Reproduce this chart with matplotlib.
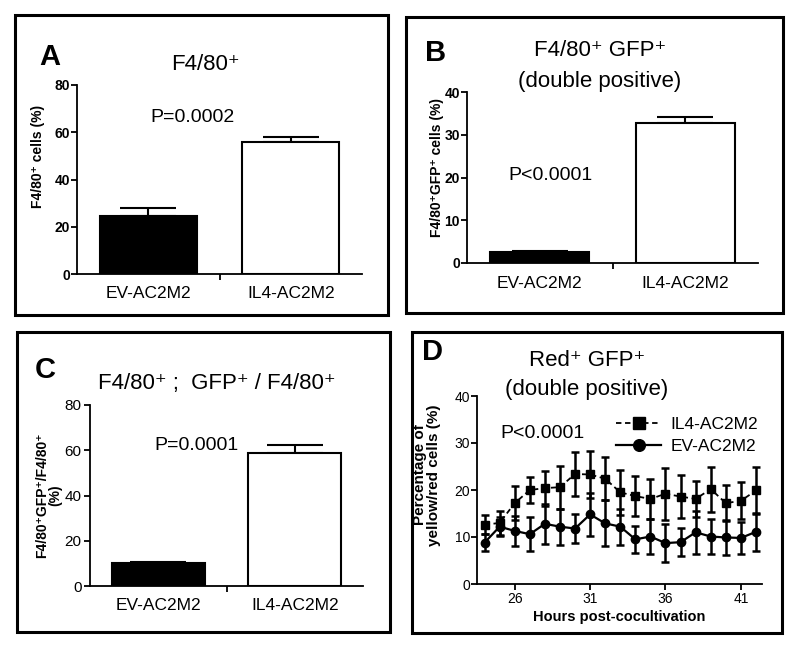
import numpy as np
import matplotlib.pyplot as plt
from matplotlib.patches import Rectangle

# Liberation Sans first, DejaVu Sans for the superscript plus sign
plt.rcParams['font.family'] = ['Liberation Sans', 'DejaVu Sans']

# bar panels A-C
groups = ['EV-AC2M2', 'IL4-AC2M2']
bar_colors = ['black', 'white']

a_mean = [24.5, 55.8]
a_err = [3.5, 2.2]
b_mean = [2.5, 32.7]
b_err = [0.3, 1.4]
c_mean = [10.0, 59.0]
c_err = [0.5, 3.2]

# time course panel D
hours = np.arange(24, 43)
il4_mean = [12.6, 13.0, 17.2, 20.0, 20.4, 20.6, 23.4, 23.3, 22.4, 19.5,
            18.7, 18.1, 19.2, 18.6, 18.1, 20.2, 17.2, 17.7, 19.9]
il4_err = [2.0, 2.5, 3.6, 2.8, 3.7, 4.6, 4.6, 5.1, 4.6, 4.8,
           4.2, 4.3, 5.5, 4.5, 3.8, 4.8, 3.8, 3.9, 4.9]
ev_mean = [8.8, 12.2, 11.3, 10.6, 12.8, 12.2, 11.8, 14.8, 12.9, 12.2,
           9.5, 10.1, 8.7, 8.9, 11.0, 10.1, 9.9, 9.8, 11.1]
ev_err = [1.8, 2.0, 3.2, 3.6, 4.2, 3.8, 3.0, 4.5, 4.9, 3.8,
          2.9, 3.7, 4.1, 3.0, 4.6, 3.8, 3.7, 3.4, 4.0]

P = '\u207a'  # superscript plus

W, H = 800, 653
fig = plt.figure(figsize=(8, 6.53), dpi=100)


def fig_rect(x0, y0, x1, y1):
    # pixel box (top-left origin) -> figure fraction
    return [x0 / W, 1 - y1 / H, (x1 - x0) / W, (y1 - y0) / H]


def frame(x0, y0, x1, y1):
    r = Rectangle((x0 / W, 1 - y1 / H), (x1 - x0) / W, (y1 - y0) / H,
                  transform=fig.transFigure, fill=False, lw=2.2, ec='black')
    fig.patches.append(r)


def ftext(x, y, s, **kw):
    fig.text(x / W, 1 - y / H, s, ha='center', va='center', **kw)


def style_axes(ax, tick_weight):
    for s in ['top', 'right']:
        ax.spines[s].set_visible(False)
    for s in ['left', 'bottom']:
        ax.spines[s].set_linewidth(1.3)
    ax.tick_params(axis='y', direction='out', length=4, width=1.3,
                   labelsize=10, pad=1)
    for t in ax.get_yticklabels():
        t.set_fontweight(tick_weight)


def bar_panel(rect, means, errs, ymax, step, tick_weight):
    ax = fig.add_axes(rect)
    x = np.arange(2)
    ax.bar(x, means, width=0.68, color=bar_colors, edgecolor='black',
           linewidth=1.5, zorder=2)
    ax.errorbar(x, means, yerr=[[0, 0], errs], fmt='none', ecolor='black',
                elinewidth=1.5, capsize=20, capthick=1.5, zorder=1)
    ax.set_xlim(-0.5, 1.5)
    ax.set_ylim(0, ymax)
    ax.set_yticks(np.arange(0, ymax + 1, step))
    ax.set_xticks(x)
    ax.set_xticklabels(groups, fontsize=12.5)
    ax.set_xticks([0.5], minor=True)
    ax.tick_params(axis='x', which='major', length=0, pad=9)
    ax.tick_params(axis='x', which='minor', length=4, width=1.3,
                   direction='out')
    style_axes(ax, tick_weight)
    return ax


# frames
frame(15, 15, 388, 315)
frame(406, 17, 783, 313)
frame(17, 332, 390, 632)
frame(412, 332, 782, 633)

# A
axA = bar_panel(fig_rect(77, 85, 362, 274), a_mean, a_err, 80, 20, 'bold')
axA.set_ylabel('F4/80' + P + ' cells (%)', fontsize=10, fontweight='bold')
axA.yaxis.set_label_coords(-0.112, 0.62)
ftext(50, 57, 'A', fontsize=21, fontweight='bold')
ftext(205, 64, 'F4/80' + P, fontsize=16)
ftext(192, 117, 'P=0.0002', fontsize=14)

# B
axB = bar_panel(fig_rect(467, 92, 758, 263), b_mean, b_err, 40, 10, 'bold')
axB.set_ylabel('F4/80' + P + 'GFP' + P + ' cells (%)',
               fontsize=10, fontweight='bold')
axB.yaxis.set_label_coords(-0.08, 0.56)
ftext(436, 53, 'B', fontsize=21, fontweight='bold')
ftext(600, 50, 'F4/80' + P + ' GFP' + P, fontsize=16)
ftext(600, 81, '(double positive)', fontsize=16)
ftext(550, 175, 'P<0.0001', fontsize=14)

# C
axC = bar_panel(fig_rect(90, 405, 363, 586), c_mean, c_err, 80, 20, 'normal')
axC.set_ylabel('F4/80' + P + 'GFP' + P + '/F4/80' + P + '\n(%)',
               fontsize=10, fontweight='bold', linespacing=1.0)
axC.yaxis.set_label_coords(-0.10, 0.5)
axC.tick_params(axis='y', labelsize=11, pad=2)
ftext(45, 370, 'C', fontsize=21, fontweight='bold')
ftext(217, 383, 'F4/80' + P + ' ;  GFP' + P + ' / F4/80' + P, fontsize=16)
ftext(197, 446, 'P=0.0001', fontsize=14)

# D
axD = fig.add_axes(fig_rect(477, 396, 762, 584))
axD.errorbar(hours, il4_mean, yerr=il4_err, fmt='none', ecolor='black',
             elinewidth=1.8, capsize=3, capthick=1.8)
axD.errorbar(hours, ev_mean, yerr=ev_err, fmt='none', ecolor='black',
             elinewidth=1.8, capsize=3, capthick=1.8)
axD.plot(hours, il4_mean, ls='--', dashes=(3, 2), color='black', lw=1.3,
         marker='s', ms=6, label='IL4-AC2M2')
axD.plot(hours, ev_mean, ls='-', color='black', lw=1.6,
         marker='o', ms=6, label='EV-AC2M2')
axD.set_xlim(23.5, 42.4)
axD.set_ylim(0, 40)
axD.set_yticks([0, 10, 20, 30, 40])
axD.set_xticks([26, 31, 36, 41])
style_axes(axD, 'normal')
axD.tick_params(axis='x', direction='out', length=4, width=1.3,
                labelsize=10, pad=2)
axD.set_xlabel('Hours post-cocultivation', fontsize=10.5, fontweight='bold',
               labelpad=3)
axD.set_ylabel('Percentage of\nyellow/red cells (%)', fontsize=11,
               fontweight='bold', linespacing=1.0)
axD.yaxis.set_label_coords(-0.125, 0.58)
axD.legend(loc='upper right', bbox_to_anchor=(1.04, 0.97), frameon=False,
           fontsize=12.5, handlelength=2.6, handletextpad=0.5,
           labelspacing=0.35, markerscale=1.4)
ftext(433, 352, 'D', fontsize=21, fontweight='bold')
ftext(587, 361, 'Red' + P + ' GFP' + P, fontsize=16)
ftext(587, 390, '(double positive)', fontsize=16)
ftext(543, 433, 'P<0.0001', fontsize=14)

fig.savefig('out.png', dpi=100, facecolor='white')
